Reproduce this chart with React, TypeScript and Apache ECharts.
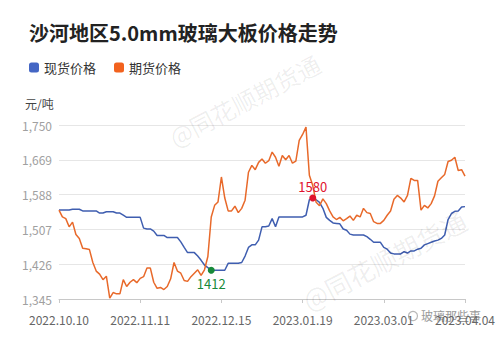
import React, { useEffect, useRef } from "react";
import * as echarts from "echarts";

const titleText = "沙河地区5.0mm玻璃大板价格走势";
const seriesNames = ["现货价格", "期货价格"];
const unitText = "元/吨";

const dates = [
  "2022.10.10", "2022.10.11", "2022.10.12", "2022.10.13", "2022.10.14", "2022.10.17", "2022.10.18", "2022.10.19", "2022.10.20", "2022.10.21",
  "2022.10.24", "2022.10.25", "2022.10.26", "2022.10.27", "2022.10.28", "2022.10.31", "2022.11.01", "2022.11.02", "2022.11.03", "2022.11.04",
  "2022.11.07", "2022.11.08", "2022.11.09", "2022.11.10", "2022.11.11", "2022.11.14", "2022.11.15", "2022.11.16", "2022.11.17", "2022.11.18",
  "2022.11.21", "2022.11.22", "2022.11.23", "2022.11.24", "2022.11.25", "2022.11.28", "2022.11.29", "2022.11.30", "2022.12.01", "2022.12.02",
  "2022.12.05", "2022.12.06", "2022.12.07", "2022.12.08", "2022.12.09", "2022.12.12", "2022.12.13", "2022.12.14", "2022.12.15", "2022.12.16",
  "2022.12.19", "2022.12.20", "2022.12.21", "2022.12.22", "2022.12.23", "2022.12.26", "2022.12.27", "2022.12.28", "2022.12.29", "2022.12.30",
  "2023.01.03", "2023.01.04", "2023.01.05", "2023.01.06", "2023.01.09", "2023.01.10", "2023.01.11", "2023.01.12", "2023.01.13", "2023.01.16",
  "2023.01.17", "2023.01.18", "2023.01.19", "2023.01.20", "2023.01.30", "2023.01.31", "2023.02.01", "2023.02.02", "2023.02.03", "2023.02.06",
  "2023.02.07", "2023.02.08", "2023.02.09", "2023.02.10", "2023.02.13", "2023.02.14", "2023.02.15", "2023.02.16", "2023.02.17", "2023.02.20",
  "2023.02.21", "2023.02.22", "2023.02.23", "2023.02.24", "2023.02.27", "2023.02.28", "2023.03.01", "2023.03.02", "2023.03.03", "2023.03.06",
  "2023.03.07", "2023.03.08", "2023.03.09", "2023.03.10", "2023.03.13", "2023.03.14", "2023.03.15", "2023.03.16", "2023.03.17", "2023.03.20",
  "2023.03.21", "2023.03.22", "2023.03.23", "2023.03.24", "2023.03.27", "2023.03.28", "2023.03.29", "2023.03.30", "2023.03.31", "2023.04.03",
  "2023.04.04",
];

const spotPrice = [
  1552, 1552, 1552, 1552, 1554, 1554, 1554, 1550, 1550, 1550,
  1550, 1550, 1545, 1545, 1548, 1548, 1548, 1545, 1545, 1540,
  1535, 1535, 1535, 1535, 1535, 1510, 1508, 1508, 1503, 1493,
  1493, 1493, 1488, 1488, 1488, 1488, 1478, 1465, 1453, 1453,
  1453, 1445, 1435, 1424, 1418, 1412, 1412, 1412, 1412, 1412,
  1428, 1428, 1428, 1428, 1430, 1445, 1465, 1471, 1471, 1482,
  1513, 1513, 1515, 1532, 1513, 1536, 1536, 1536, 1536, 1536,
  1536, 1536, 1536, 1540, 1576, 1580, 1576, 1570, 1556, 1535,
  1528, 1522, 1521, 1520, 1508, 1505, 1496, 1494, 1494, 1494,
  1494, 1490, 1484, 1477, 1477, 1477, 1465, 1461, 1452, 1450,
  1450, 1450, 1455, 1452, 1457, 1457, 1461, 1463, 1471, 1474,
  1477, 1480, 1482, 1486, 1494, 1530, 1544, 1549, 1550, 1559,
  1560,
];

const futuresPrice = [
  1552, 1536, 1532, 1513, 1524, 1495, 1486, 1463, 1462, 1460,
  1430, 1410, 1403, 1390, 1398, 1347, 1360, 1357, 1357, 1390,
  1374, 1384, 1390, 1383, 1393, 1397, 1417, 1417, 1384, 1370,
  1372, 1367, 1374, 1392, 1430, 1410, 1405, 1388, 1386, 1397,
  1405, 1413, 1400, 1413, 1444, 1536, 1563, 1571, 1629, 1580,
  1550, 1550, 1561, 1546, 1556, 1575, 1640, 1656, 1646, 1663,
  1671, 1661, 1667, 1687, 1675, 1654, 1679, 1669, 1679, 1661,
  1666, 1714, 1728, 1745, 1633, 1609, 1570, 1562, 1578, 1567,
  1550, 1536, 1530, 1535, 1527, 1532, 1538, 1528, 1540, 1536,
  1556, 1546, 1544, 1525, 1521, 1521, 1528, 1540, 1550, 1577,
  1586, 1580, 1571, 1586, 1626, 1621, 1621, 1552, 1563, 1557,
  1567, 1585, 1619, 1627, 1635, 1665, 1668, 1675, 1644, 1646,
  1631,
];

const yMin = 1345;
const yMax = 1750;
const yStep = 81;

const FONT = "'Noto Sans CJK SC', 'Noto Sans', sans-serif";

export default function App() {
  const ref = useRef<HTMLDivElement>(null);

  useEffect(() => {
    if (!ref.current) return;
    const chart = echarts.init(ref.current, null, { renderer: "svg" });
    chart.setOption({
      animation: false,
      backgroundColor: "#ffffff",
      textStyle: { fontFamily: FONT },
      title: {
        text: titleText,
        left: 29,
        top: 22,
        padding: 0,
        textStyle: { fontSize: 20, fontWeight: "bold", color: "#222222", fontFamily: FONT },
      },
      legend: {
        left: 29,
        top: 61,
        padding: 0,
        icon: "roundRect",
        itemWidth: 10,
        itemHeight: 10,
        itemGap: 18,
        textStyle: { fontSize: 13, color: "#333333", fontFamily: FONT },
        data: seriesNames,
      },
      grid: { left: 59, right: 35, top: 125, bottom: 41 },
      xAxis: {
        type: "category",
        data: dates,
        boundaryGap: false,
        axisLine: { lineStyle: { color: "#c8c8c8", width: 1 } },
        axisTick: { show: true, interval: 23, length: 4, lineStyle: { color: "#c8c8c8" } },
        axisLabel: { interval: 23, color: "#666666", fontSize: 12, margin: 14, fontFamily: FONT },
        splitLine: { show: false },
      },
      yAxis: {
        type: "value",
        min: yMin,
        max: yMax,
        interval: yStep,
        axisLine: { show: false },
        axisTick: { show: false },
        axisLabel: {
          color: "#a0a0a0",
          fontSize: 12,
          margin: 7,
          fontFamily: FONT,
          formatter: (v: number) => v.toLocaleString("en-US"),
        },
        splitLine: { lineStyle: { color: "#e6e6e6", width: 1 } },
      },
      graphic: [
        {
          type: "text",
          left: 25,
          top: 97,
          style: { text: unitText, fontSize: 12, fill: "#444444", fontFamily: FONT },
        },
        {
          type: "text",
          x: 165,
          y: 128,
          rotation: 0.48,
          silent: true,
          z: 50,
          style: { text: "@同花顺期货通", fontSize: 24, fill: "rgba(0,0,0,0.07)", fontFamily: FONT },
        },
        {
          type: "text",
          x: 298,
          y: 290,
          rotation: 0.48,
          silent: true,
          z: 50,
          style: { text: "@同花顺期货通", fontSize: 26, fill: "rgba(0,0,0,0.07)", fontFamily: FONT },
        },
        {
          type: "group",
          z: 100,
          children: [
            { type: "rect", shape: { x: 406, y: 306, width: 76, height: 22 }, style: { fill: "#ffffff" } },
            { type: "circle", shape: { cx: 413, cy: 316, r: 4.5 }, style: { fill: "none", stroke: "#b8b8b8", lineWidth: 1.2 } },
            {
              type: "text",
              x: 421,
              y: 309,
              style: { text: "玻璃那些事", fontSize: 12, fill: "#9a9a9a", fontFamily: FONT },
            },
          ],
        },
      ],
      series: [
        {
          name: seriesNames[0],
          type: "line",
          data: spotPrice,
          showSymbol: false,
          symbol: "none",
          color: "#4466c4",
          lineStyle: { color: "#3f5eb0", width: 1.5 },
          markPoint: {
            symbol: "circle",
            symbolSize: 7,
            data: [
              {
                type: "min",
                itemStyle: { color: "#178a3a" },
                label: { show: true, position: "bottom", distance: 3, color: "#178a3a", fontSize: 13, formatter: "{c}", fontFamily: FONT },
              },
              {
                type: "max",
                itemStyle: { color: "#e0132e" },
                label: { show: true, position: "top", distance: 2, color: "#e0132e", fontSize: 13, formatter: "{c}", fontFamily: FONT },
              },
            ],
          },
        },
        {
          name: seriesNames[1],
          type: "line",
          data: futuresPrice,
          showSymbol: false,
          symbol: "none",
          color: "#f2621e",
          lineStyle: { color: "#e8692a", width: 1.5 },
        },
      ],
    });
    return () => chart.dispose();
  }, []);

  return (
    <div
      ref={ref}
      style={{ position: "fixed", left: 0, top: 0, width: 500, height: 340, background: "#fff" }}
    />
  );
}
